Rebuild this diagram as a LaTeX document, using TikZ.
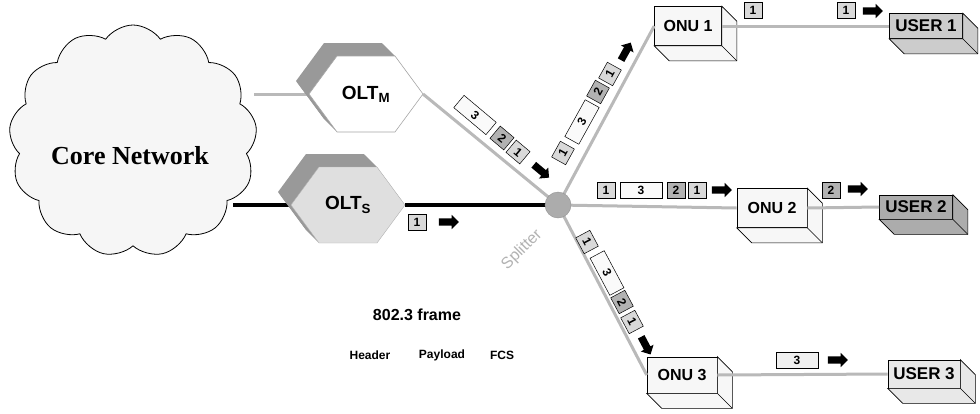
\documentclass[tikz,border=0pt]{standalone}
\usepackage{fontspec}
\setmainfont{Liberation Serif}
\setsansfont{Liberation Sans}
\usepackage{tikz}
\usetikzlibrary{shapes.symbols,shapes.arrows,calc}

\tikzset{
  fiber/.style={draw=gray!55, line width=3pt},
  trunk/.style={draw=black, line width=4pt},
  pkt/.style={draw, line width=0.5pt, inner sep=0pt, minimum width=18pt, minimum height=16pt,
    font=\sffamily\bfseries\fontsize{12}{12}\selectfont},
  pktone/.style={pkt, fill=gray!30},
  pkttwo/.style={pkt, fill=gray!60},
  pktthree/.style={pkt, fill=gray!4, minimum width=42pt},
  pktarrow/.style={single arrow, fill=black, inner sep=3.5pt, minimum height=20pt,
    single arrow head extend=3.5pt, single arrow head indent=0pt},
  frontface/.style={draw, line width=0.6pt, inner sep=0pt},
  onubox/.style={frontface, fill=gray!6, font=\sffamily\bfseries\fontsize{16}{16}\selectfont},
  userbox/.style={frontface, font=\sffamily\bfseries\fontsize{17}{17}\selectfont},
  sideface/.style={draw, line width=0.6pt},
  hexshade/.style={fill=gray!80},
  oltlabel/.style={font=\sffamily\bfseries\fontsize{19}{19}\selectfont},
  frametext/.style={font=\sffamily\bfseries\fontsize{12}{12}\selectfont},
}

% hexagon outline around a centre point
\newcommand{\olthex}[2]{(#1-57,#2) -- (#1-29,#2-38) -- (#1+29,#2-38) -- (#1+57,#2)
  -- (#1+29,#2+38) -- (#1-29,#2+38) -- cycle}

\begin{document}
\begin{tikzpicture}[x=1pt,y=-1pt]
    \useasboundingbox (0,0) rectangle (980,413);

    % Core network cloud
    \node[cloud, cloud puffs=13, cloud puff arc=110, draw, line width=0.8pt, fill=gray!7,
      minimum width=248pt, minimum height=232pt, aspect=1] (core) at (133,141) {};
    \node[font=\bfseries\fontsize{26}{26}\selectfont] (corelbl) at (130,156) {Core Network};

    % Define coordinates
    \coordinate (coreM) at (254,94);
    \coordinate (coreS) at (233,205);
    \coordinate (oltmW) at (309,94);
    \coordinate (oltmE) at (423,94);
    \coordinate (oltsW) at (291,205);
    \coordinate (oltsE) at (405,205);
    \coordinate (split) at (558,205);

    % Lines from the cloud
    \draw[fiber] (coreM) -- (oltmW);
    \draw[trunk] (coreS) -- (oltsW);

    % OLT hexagons
    \foreach \k in {1,...,13} {
      \fill[hexshade] \olthex{366-\k}{94-\k};
      \fill[hexshade] \olthex{348-\k}{205-\k};
    }
    \filldraw[fill=white, draw=gray!70, line width=0.6pt] \olthex{366}{94};
    \filldraw[fill=gray!25, draw=gray!60, line width=0.4pt] \olthex{348}{205};
    \node[oltlabel] (oltm) at (366,94) {OLT\textsubscript{M}};
    \node[oltlabel] (olts) at (348,205) {OLT\textsubscript{S}};

    % ONU and user boxes
    \node[onubox, minimum width=67pt, minimum height=39pt] (onu1) at (688,26) {ONU 1};
    \node[onubox, minimum width=70pt, minimum height=39pt] (onu2) at (772,208) {ONU 2};
    \node[onubox, minimum width=70pt, minimum height=36pt] (onu3) at (682,375) {ONU 3};
    \node[userbox, fill=gray!40, minimum width=73pt, minimum height=25pt] (user1) at (926,26) {USER 1};
    \node[userbox, fill=gray!65, minimum width=73pt, minimum height=24pt] (user2) at (916,207) {USER 2};
    \node[userbox, fill=gray!18, minimum width=72pt, minimum height=28pt] (user3) at (924,374) {USER 3};
    \foreach \b/\c in {onu1/gray!6, onu2/gray!6, onu3/gray!6, user1/gray!40, user2/gray!65, user3/gray!18} {
      \filldraw[sideface, fill=\c] (\b.north east) -- ++(15,15) -- ($(\b.south east)+(15,15)$)
        -- ($(\b.south west)+(15,15)$) -- (\b.south west) -- (\b.south east) -- cycle;
      \draw[sideface] (\b.south east) -- ++(15,15);
    }

    % Fibre links
    \draw[fiber] (oltmE) -- (split);
    \draw[trunk] (oltsE) -- (split);
    \draw[fiber] (split) -- (onu1.west);
    \draw[fiber] (split) -- (onu2.west);
    \draw[fiber] (split) -- (onu3.west);
    \draw[fiber] (onu1.east) -- (user1.west);
    \draw[fiber] (onu2.east) -- (user2.west);
    \draw[fiber] (onu3.east) -- (user3.west);

    % Splitter
    \node[circle, fill=gray!65, draw=gray!85, minimum size=26pt, inner sep=0pt] (splitdot) at (split) {};
    \node[rotate=45, text=gray!60, font=\sffamily\fontsize{16}{16}\selectfont] (splitlbl) at (522,250) {Splitter};

    % Frames from OLT_M
    \node[pktthree, rotate=-40] (m3) at (475,115) {3};
    \node[pkttwo, rotate=-40] (m2) at (502,138) {2};
    \node[pktone, rotate=-40] (m1) at (518,152) {1};
    \node[pktarrow, rotate=-40] (ma) at (540,170) {};

    % Frame from OLT_S
    \node[pktone] (s1) at (417,222) {1};
    \node[pktarrow] (sa) at (447,222) {};

    % Frames towards ONU 1
    \node[pktone, rotate=61] (a1) at (563,153) {1};
    \node[pktthree, rotate=61] (a3) at (582,122) {3};
    \node[pkttwo, rotate=61] (a2) at (598,92) {2};
    \node[pktone, rotate=61] (a1b) at (610,74) {1};
    \node[pktarrow, rotate=61] (aa) at (625,53) {};

    % Frames towards ONU 2
    \node[pktone] (b1) at (606,190) {1};
    \node[pktthree] (b3) at (641,190) {3};
    \node[pkttwo] (b2) at (676,190) {2};
    \node[pktone] (b1b) at (697,190) {1};
    \node[pktarrow] (ba) at (720,190) {};

    % Frames towards ONU 3
    \node[pktone, rotate=-62] (c1) at (587,242) {1};
    \node[pktthree, rotate=-62] (c3) at (607,273) {3};
    \node[pkttwo, rotate=-62] (c2) at (622,302) {2};
    \node[pktone, rotate=-62] (c1b) at (632,322) {1};
    \node[pktarrow, rotate=-62] (ca) at (645,344) {};

    % Frames delivered to users
    \node[pktone] (d1) at (753,10) {1};
    \node[pktone] (u1) at (846,10) {1};
    \node[pktarrow] (u1a) at (871,11) {};
    \node[pkttwo] (u2) at (831,190) {2};
    \node[pktarrow] (u2a) at (856,189) {};
    \node[pktthree, fill=gray!12] (u3) at (797,360) {3};
    \node[pktarrow] (u3a) at (836,360) {};

    % Frame legend
    \node[font=\sffamily\bfseries\fontsize{16}{16}\selectfont] (frame) at (417,315) {802.3 frame};
    \node[frametext] (hdr) at (370,355) {Header};
    \node[frametext] (pay) at (442,355) {Payload};
    \node[frametext] (fcs) at (502,355) {FCS};
\end{tikzpicture}
\end{document}
